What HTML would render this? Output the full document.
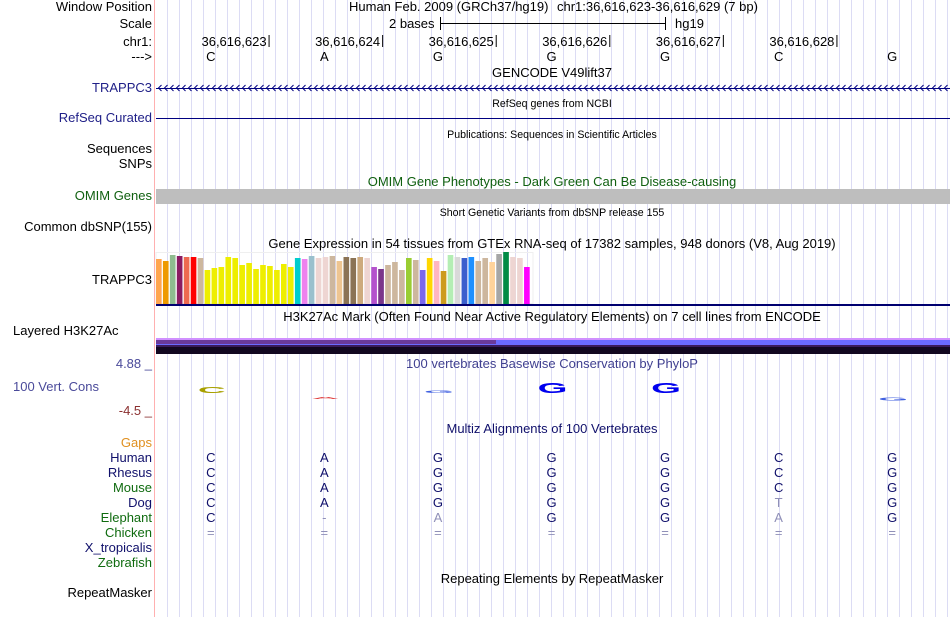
<!DOCTYPE html>
<html><head><meta charset="utf-8"><style>
html,body{margin:0;padding:0;background:#fff;width:950px;height:617px;overflow:hidden}
svg{display:block;font-family:"Liberation Sans",sans-serif}
.l{font-size:13px;text-anchor:end}
.t{font-size:13px;text-anchor:middle}
.s{font-size:10.6px;text-anchor:middle}
</style></head><body>
<svg id="c" width="950" height="617" viewBox="0 0 950 617">
<defs>
<pattern id="chev" x="157" y="82" width="6" height="12" patternUnits="userSpaceOnUse">
<path d="M4.5 3 L1.5 6 L4.5 9" fill="none" stroke="#000080" stroke-width="1"/>
</pattern>
</defs>
<g id="grid"></g>
<line x1="154.5" y1="0" x2="154.5" y2="617" stroke="#ffb0b0"/>

<text class="l" x="152" y="11" fill="#000">Window Position</text>
<text x="349" y="11" font-size="13" fill="#000">Human Feb. 2009 (GRCh37/hg19)</text>
<text x="557" y="11" font-size="13" fill="#000">chr1:36,616,623-36,616,629 (7 bp)</text>
<text class="l" x="152" y="28">Scale</text>
<text x="389" y="28" font-size="13">2 bases</text>
<g stroke="#000"><line x1="440" y1="23.5" x2="666" y2="23.5"/><line x1="440.5" y1="17" x2="440.5" y2="30"/><line x1="665.5" y1="17" x2="665.5" y2="30"/></g>
<text x="675" y="28" font-size="13">hg19</text>
<text class="l" x="152" y="46">chr1:</text>
<text class="l" x="152" y="61">---&gt;</text>
<g id="ruler"></g>

<text class="t" x="552" y="77">GENCODE V49lift37</text>
<text class="l" x="152" y="92" fill="#202088">TRAPPC3</text>
<rect x="156" y="82" width="794" height="12" fill="url(#chev)"/>
<line x1="156" y1="88.5" x2="950" y2="88.5" stroke="#000080"/>

<text class="s" x="552" y="107">RefSeq genes from NCBI</text>
<text class="l" x="152" y="122" fill="#202088">RefSeq Curated</text>
<line x1="156" y1="118.5" x2="950" y2="118.5" stroke="#000080"/>

<text class="s" x="552" y="138">Publications: Sequences in Scientific Articles</text>
<text class="l" x="152" y="153">Sequences</text>
<text class="l" x="152" y="168">SNPs</text>

<text class="t" x="552" y="186" fill="#106010">OMIM Gene Phenotypes - Dark Green Can Be Disease-causing</text>
<text class="l" x="152" y="200" fill="#106010">OMIM Genes</text>
<rect x="156" y="189" width="794" height="15" fill="#bebebe"/>

<text class="s" x="552" y="216">Short Genetic Variants from dbSNP release 155</text>
<text class="l" x="152" y="231">Common dbSNP(155)</text>

<text class="t" x="552" y="248">Gene Expression in 54 tissues from GTEx RNA-seq of 17382 samples, 948 donors (V8, Aug 2019)</text>
<text class="l" x="152" y="284">TRAPPC3</text>
<rect x="156" y="252.5" width="377" height="51" fill="none" stroke="#efefef"/>
<g id="gtex"></g>
<rect x="156" y="304" width="794" height="2" fill="#000070"/>

<text class="t" x="552" y="321">H3K27Ac Mark (Often Found Near Active Regulatory Elements) on 7 cell lines from ENCODE</text>
<text x="13" y="335" font-size="13">Layered H3K27Ac</text>
<g>
<rect x="156" y="338" width="794" height="2" fill="#d090ff"/>
<rect x="156" y="340" width="794" height="5" fill="#6a6aff"/>
<rect x="156" y="340" width="340" height="4" fill="#6a3a9a"/>
<rect x="156" y="345" width="794" height="2" fill="#3a1a5a"/>
<rect x="156" y="347" width="794" height="7" fill="#120820"/>
</g>

<text class="l" x="152" y="368" fill="#4a4a9a">4.88 _</text>
<text x="13" y="391" font-size="13" fill="#4a4a9a">100 Vert. Cons</text>
<text class="l" x="152" y="415" fill="#8b3030">-4.5 _</text>
<text class="t" x="552" y="368" fill="#404090">100 vertebrates Basewise Conservation by PhyloP</text>
<g id="cons"></g>

<text class="t" x="552" y="433" fill="#10106b">Multiz Alignments of 100 Vertebrates</text>
<g id="species"></g>
<g id="align"></g>

<text class="t" x="552" y="583">Repeating Elements by RepeatMasker</text>
<text class="l" x="152" y="597">RepeatMasker</text>
</svg>
<script>
const positions = ["36,616,623","36,616,624","36,616,625","36,616,626","36,616,627","36,616,628"];
const bases = ["C","A","G","G","G","C","G"];
const gtexValues = [45,43,49,48,47,47,46,34,36,37,47,46,39,41,35,39,38,34,40,37,46,45,48,46,47,48,43,47,46,47,46,37,35,39,42,34,46,44,34,46,43,33,49,47,46,47,43,46,42,50,52,47,46,37];
const gtexColors = ["#FFA54F","#EE9A00","#8FBC8F","#8B1C62","#EE6A50","#FF0000","#CDB79E","#EEEE00","#EEEE00","#EEEE00","#EEEE00","#EEEE00","#EEEE00","#EEEE00","#EEEE00","#EEEE00","#EEEE00","#EEEE00","#EEEE00","#EEEE00","#00CDCD","#EE82EE","#9AC0CD","#EED5D2","#EED5D2","#CDB79E","#EEC591","#8B7355","#8B7355","#CDAA7D","#EED5D2","#B452CD","#7A378B","#CDB79E","#CDB79E","#CDB79E","#9ACD32","#CDB79E","#7A67EE","#FFD700","#FFB6C1","#CD9B1D","#B4EEB4","#D9D9D9","#3A5FCD","#1E90FF","#CDB79E","#CDB79E","#FFD39B","#A6A6A6","#008B45","#EED5D2","#EED5D2","#FF00FF"];
const consScores = [0.9, -0.3, 0.4, 1.6, 1.6, 0, -0.5];
const consColors = ["#a8a000","#e04040","#4060e0","#0000ee","#0000ee","#0000ee","#4060e0"];
const speciesNames = ["Gaps","Human","Rhesus","Mouse","Dog","Elephant","Chicken","X_tropicalis","Zebrafish"];
const speciesColors = ["#e09020","#10106b","#10106b","#0f6b0f","#10106b","#0f6b0f","#0f6b0f","#10106b","#0f6b0f"];
const alignRows = ["","CAGGGCG","CAGGGCG","CAGGGCG","CAGGGTG","C-AGGAG","=======","",""];
const alignDim = ["","0000000","0000000","0000000","0000010","0110010","1111111","",""];
const NS = "http://www.w3.org/2000/svg";
const X0 = 155, W = 795, NB = 7, BW = W / NB;
const xb = i => X0 + BW * (i + 0.5);
function mk(tag, attrs, parent) { const e = document.createElementNS(NS, tag); for (const k in attrs) e.setAttribute(k, attrs[k]); parent.appendChild(e); return e; }
const grid = document.getElementById('grid');
for (let x = 167.5; x < 950; x += 12) {
  const ln = mk('line', {x1: x, y1: 0, x2: x, y2: 617, stroke: '#dcdcf4'}, grid);
  
  
}
const ruler = document.getElementById('ruler');
positions.forEach((p, i) => {
  const bx = X0 + BW * (i + 1);
  const t = mk('text', {x: bx - 2, y: 46, 'font-size': 13, 'text-anchor': 'end'}, ruler);
  t.textContent = p;
  
  
  const tk = mk('line', {x1: bx + 0.5, y1: 35, x2: bx + 0.5, y2: 47, stroke: '#000'}, ruler);
  
  
});
bases.forEach((b, i) => {
  const t = mk('text', {x: xb(i) - 1, y: 61, 'font-size': 13, 'text-anchor': 'middle'}, ruler);
  t.textContent = b;
  
  
});
const gtex = document.getElementById('gtex');
const gBase = 304, gScale = 1.0, gStep = 375 / 54;
gtexValues.forEach((v, i) => {
  const h = v * gScale;
  const r = mk('rect', {x: (156 + i * gStep).toFixed(2), y: gBase - h, width: (gStep - 1.3).toFixed(2), height: h, fill: gtexColors[i]}, gtex);
  
  
});
const cons = document.getElementById('cons');
const cMid = 393;
bases.forEach((b, i) => {
  const s = consScores[i];
  if (s === 0) return;
  const hgt = Math.abs(s) * 7;
  const g = mk('g', {transform: `translate(${xb(i)},${s > 0 ? cMid : cMid + 4}) scale(3.2,${(hgt / 9).toFixed(3)})`}, cons);
  const t = mk('text', {x: 0, y: s > 0 ? 0 : 9, 'font-size': 12, 'font-weight': 'bold', 'text-anchor': 'middle', fill: consColors[i]}, g);
  t.textContent = b;
  
  
});
const sp = document.getElementById('species');
const al = document.getElementById('align');
speciesNames.forEach((n, r) => {
  const y = 447 + r * 15;
  const t = mk('text', {x: 152, y: y, 'font-size': 13, 'text-anchor': 'end', fill: speciesColors[r]}, sp);
  t.textContent = n;
  
  
  const row = alignRows[r];
  for (let i = 0; i < row.length; i++) {
    const dim = alignDim[r][i] === '1';
    const a = mk('text', {x: xb(i) - 1, y: y, 'font-size': 13, 'text-anchor': 'middle', fill: dim ? '#9090b8' : '#10106b'}, al);
    a.textContent = row[i];
    
    
  }
});
</script>
</body></html>
